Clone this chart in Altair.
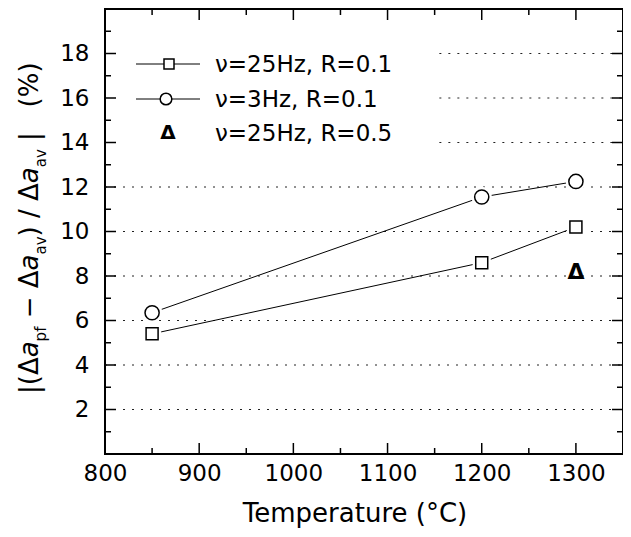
import altair as alt
import pandas as pd

# ---------------- data ----------------
temp_sq = [850, 1200, 1300]
val_sq = [5.4, 8.6, 10.2]          # v=25Hz, R=0.1 (squares)
temp_ci = [850, 1200, 1300]
val_ci = [6.35, 11.55, 12.25]      # v=3Hz, R=0.1 (circles)
temp_tri = [1300]
val_tri = [8.2]                    # v=25Hz, R=0.5 (delta)

legend_labels = ["ν=25Hz, R=0.1", "ν=3Hz, R=0.1", "ν=25Hz, R=0.5"]

x_major = [800, 900, 1000, 1100, 1200, 1300]
x_minor = [850, 950, 1050, 1150, 1250]
y_major = [2, 4, 6, 8, 10, 12, 14, 16, 18]
y_minor = [1, 3, 5, 7, 9, 11, 13, 15, 17, 19]
grid_full = [2, 4, 6, 8, 10, 12]
grid_part = [14, 16, 18]
grid_part_start = 1155

X_DOM = [800, 1350]
Y_DOM = [0, 20]

# ---------------- layout ----------------
W, H = 518, 445
FONT = "DejaVu Sans"
MAJ, MIN = 11, 6

xs = alt.Scale(domain=X_DOM, nice=False, zero=False)
ys = alt.Scale(domain=Y_DOM, nice=False, zero=False)
XAX = alt.Axis(values=x_major, title=None, ticks=False, domain=False, grid=False,
               labelPadding=8, format="d", labelFlush=False, labelOverlap=False)
YAX = alt.Axis(values=y_major, title=None, ticks=False, domain=False, grid=False,
               labelPadding=16, format="d", labelFlush=False, labelOverlap=False)
dummy = pd.DataFrame({"d": [0]})


def X(field):
    return alt.X(field, scale=xs, axis=XAX)


def Y(field):
    return alt.Y(field, scale=ys, axis=YAX)


layers = []

# grid lines
gdf = pd.DataFrame({
    "y": grid_full + grid_part,
    "x0": [X_DOM[0]] * len(grid_full) + [grid_part_start] * len(grid_part),
    "x1": [X_DOM[1]] * (len(grid_full) + len(grid_part)),
})
layers.append(
    alt.Chart(gdf).mark_rule(color="#222", strokeWidth=1, strokeDash=[2, 7]).encode(
        x=X("x0:Q"), x2="x1:Q", y=Y("y:Q"))
)


# ticks (inward, all four sides)
def xticks(vals, length):
    df = pd.DataFrame({"x": vals})
    b = alt.Chart(df).mark_rule(color="black", strokeWidth=1.5).encode(
        x=X("x:Q"), y=alt.value(H), y2=alt.value(H - length))
    t = alt.Chart(df).mark_rule(color="black", strokeWidth=1.5).encode(
        x=X("x:Q"), y=alt.value(0), y2=alt.value(length))
    return [b, t]


def yticks(vals, length):
    df = pd.DataFrame({"y": vals})
    l = alt.Chart(df).mark_rule(color="black", strokeWidth=1.5).encode(
        y=Y("y:Q"), x=alt.value(0), x2=alt.value(length))
    r = alt.Chart(df).mark_rule(color="black", strokeWidth=1.5).encode(
        y=Y("y:Q"), x=alt.value(W), x2=alt.value(W - length))
    return [l, r]


layers += xticks(x_major, MAJ) + xticks(x_minor, MIN)
layers += yticks(y_major, MAJ) + yticks(y_minor, MIN)


# series
def series(t, v, shape, size, halo):
    df = pd.DataFrame({"t": t, "v": v})
    enc = dict(x=X("t:Q"), y=Y("v:Q"))
    return [
        alt.Chart(df).mark_line(color="black", strokeWidth=1).encode(**enc),
        alt.Chart(df).mark_point(shape=shape, filled=True, color="white", opacity=1,
                                 size=halo, strokeWidth=0).encode(**enc),
        alt.Chart(df).mark_point(shape=shape, filled=True, fill="white", stroke="black",
                                 strokeWidth=1.5, opacity=1, size=size).encode(**enc),
    ]


layers += series(temp_sq, val_sq, "square", 144, 330)
layers += series(temp_ci, val_ci, "circle", 200, 420)

tdf = pd.DataFrame({"t": temp_tri, "v": val_tri})
layers.append(
    alt.Chart(tdf).mark_text(text="Δ", font=FONT, fontSize=22, fontWeight="bold",
                             color="black", baseline="middle", align="center").encode(
        x=X("t:Q"), y=Y("v:Q"))
)

# legend (drawn by hand)
leg_y = [55, 90, 124]
leg_shapes = ["square", "circle", None]
leg_sizes = [100, 135, 0]
leg_mx = [64, 61, 63]
for i, lab in enumerate(legend_labels):
    yv = leg_y[i]
    if leg_shapes[i]:
        layers.append(alt.Chart(dummy).mark_rule(color="black", strokeWidth=1).encode(
            x=alt.value(31), x2=alt.value(95), y=alt.value(yv)))
        layers.append(alt.Chart(dummy).mark_point(shape=leg_shapes[i], filled=True, fill="white",
                      stroke="black", strokeWidth=1.5, opacity=1, size=leg_sizes[i]).encode(
            x=alt.value(leg_mx[i]), y=alt.value(yv)))
    else:
        layers.append(alt.Chart(dummy).mark_text(text="Δ", font=FONT, fontSize=20, fontWeight="bold",
                      color="black", baseline="middle", align="center").encode(
            x=alt.value(leg_mx[i]), y=alt.value(yv)))
    layers.append(alt.Chart(dummy).mark_text(text=lab, font=FONT, fontSize=23, color="black",
                  baseline="middle", align="left").encode(x=alt.value(110), y=alt.value(yv + 1)))

# x-axis title
layers.append(alt.Chart(dummy).mark_text(text="Temperature (°C)", font=FONT, fontSize=26,
              color="black", baseline="alphabetic", align="center").encode(
    x=alt.value(250), y=alt.value(513)))

# y-axis title, composed of pieces (rotated)
EM = {'|': 0.337, '(': 0.39, ')': 0.39, 'Δ': 0.684, 'a': 0.613, 'p': 0.635, 'f': 0.352,
      'v': 0.592, ' ': 0.318, '−': 0.838, '/': 0.337, '%': 0.95}
MAIN, SUB = 26, 15
pieces = [
    ("|(Δ", MAIN, False, False),
    ("a", MAIN, True, False),
    ("pf", SUB, False, True),
    (" − Δ", MAIN, False, False),
    ("a", MAIN, True, False),
    ("av", SUB, False, True),
    (") / Δ", MAIN, False, False),
    ("a", MAIN, True, False),
    ("av", SUB, False, True),
    (" |", MAIN, False, False),
    ("   (%)", MAIN, False, False),
]
cursor = 385.0
base_x = -67
for txt, fs, ital, sub in pieces:
    stripped = txt.lstrip(" ")
    lead = len(txt) - len(stripped)
    cursor -= lead * EM[' '] * fs
    props = dict(text=stripped, font=FONT, fontSize=fs, color="black", angle=270,
                 align="left", baseline="alphabetic")
    if ital:
        props["fontStyle"] = "italic"
    layers.append(alt.Chart(dummy).mark_text(**props).encode(
        x=alt.value(base_x + (8 if sub else 0)), y=alt.value(cursor)))
    cursor -= sum(EM[c] for c in stripped) * fs

chart = alt.layer(*layers).properties(
    width=W, height=H,
    autosize=alt.AutoSizeParams(type="none"),
    padding={"left": 97, "top": 1, "right": 0, "bottom": 80},
).configure_view(stroke="black", strokeWidth=2).configure_axis(
    labelFont=FONT, labelFontSize=23, labelColor="black"
)

chart.save("out.html", embed_options={"renderer": "svg", "actions": False})
